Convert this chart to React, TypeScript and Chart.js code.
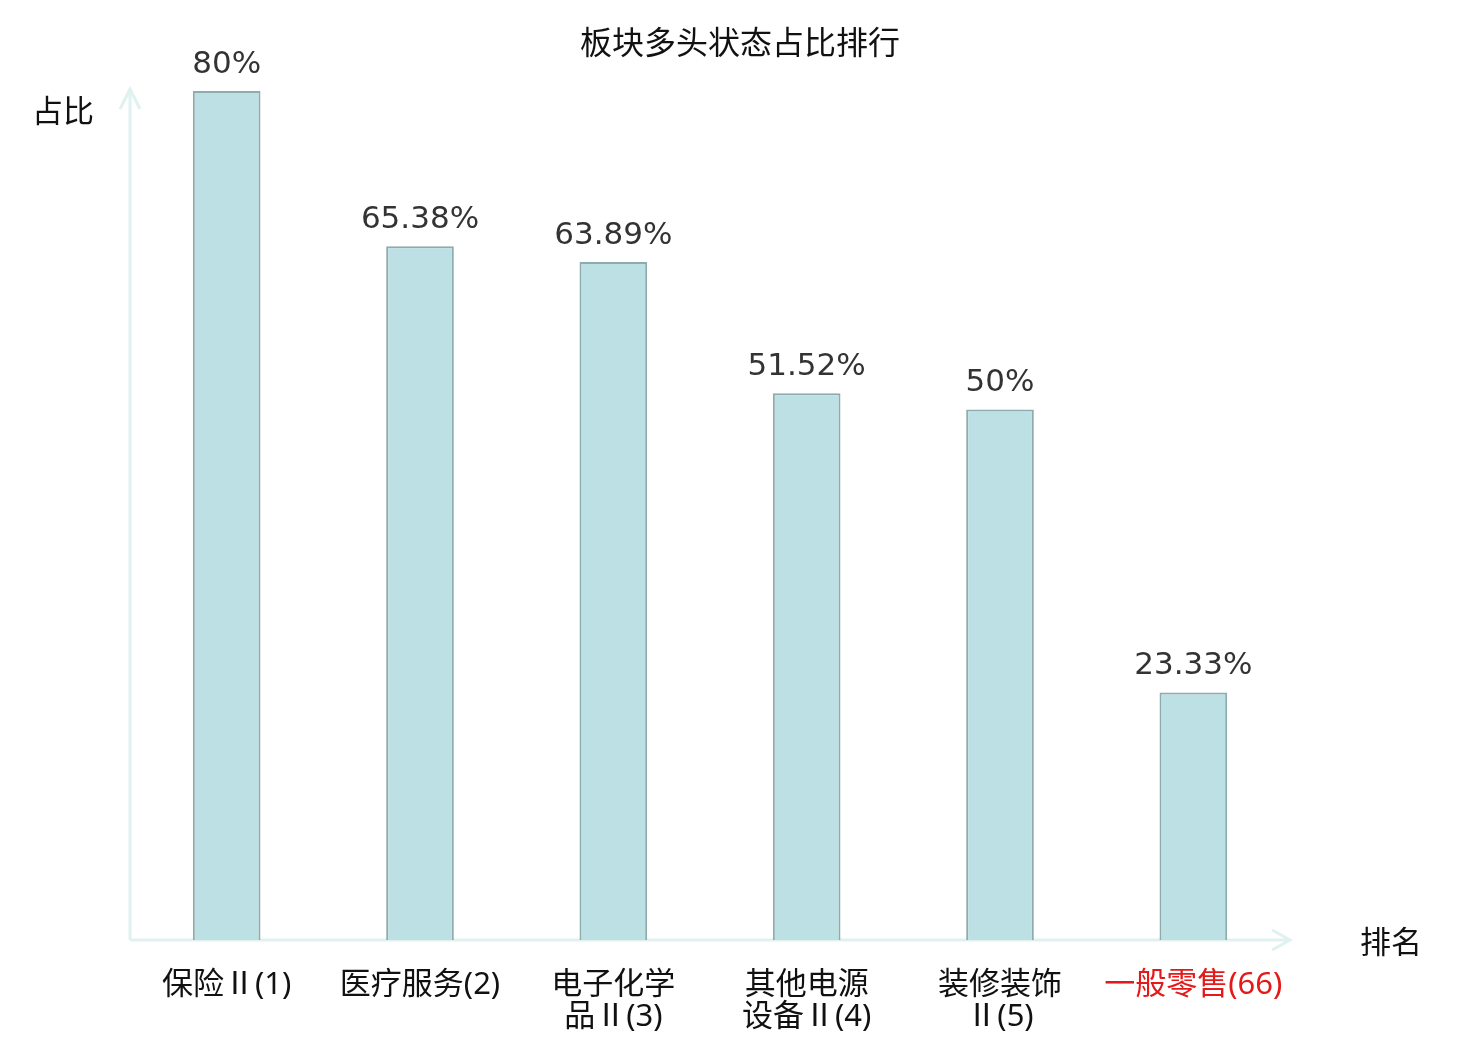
import React, { useEffect, useRef } from "react";
import { Chart, registerables } from "chart.js";

Chart.register(...registerables);

const title = "板块多头状态占比排行";
const yAxisName = "占比";
const xAxisName = "排名";
const categories: string[][] = [
  ["保险Ⅱ(1)"],
  ["医疗服务(2)"],
  ["电子化学", "品Ⅱ(3)"],
  ["其他电源", "设备Ⅱ(4)"],
  ["装修装饰", "Ⅱ(5)"],
  ["一般零售(66)"],
];
const values = [80, 65.38, 63.89, 51.52, 50, 23.33];
const valueLabels = ["80%", "65.38%", "63.89%", "51.52%", "50%", "23.33%"];
const highlightIndex = 5;

const CJK = "'Noto Sans CJK SC', 'Noto Sans', sans-serif";
const TICK_FONT = "'Noto Sans', 'Noto Sans CJK SC', sans-serif";
const AXIS_COLOR = "#dff2ef";

const decorPlugin = {
  id: "decor",
  beforeDatasetsDraw(chart: any) {
    const { ctx, chartArea } = chart;
    const { left, right, top, bottom } = chartArea;
    ctx.save();
    ctx.strokeStyle = AXIS_COLOR;
    ctx.lineWidth = 3;
    ctx.lineJoin = "miter";
    ctx.beginPath();
    ctx.moveTo(left, bottom);
    ctx.lineTo(left, top - 2);
    ctx.moveTo(left, bottom);
    ctx.lineTo(right, bottom);
    ctx.stroke();
    ctx.beginPath();
    ctx.moveTo(left - 10, top + 18);
    ctx.lineTo(left, top - 2);
    ctx.lineTo(left + 10, top + 18);
    ctx.moveTo(right - 18, bottom - 10);
    ctx.lineTo(right, bottom);
    ctx.lineTo(right - 18, bottom + 10);
    ctx.stroke();
    ctx.restore();
  },
  afterDatasetsDraw(chart: any) {
    const { ctx, chartArea, width } = chart;
    const meta = chart.getDatasetMeta(0);
    ctx.save();
    ctx.fillStyle = "#333333";
    ctx.font = "31px 'DejaVu Sans'";
    ctx.textAlign = "center";
    ctx.textBaseline = "alphabetic";
    meta.data.forEach((bar: any, i: number) => {
      ctx.fillText(valueLabels[i], bar.x, bar.y - 18);
    });
    ctx.fillStyle = "#111111";
    ctx.font = `32px ${CJK}`;
    ctx.textBaseline = "middle";
    ctx.fillText(title, width / 2, 42);
    ctx.font = `31px ${CJK}`;
    ctx.fillText(yAxisName, chartArea.left - 67, chartArea.top + 19);
    ctx.fillText(xAxisName, chartArea.right + 101, chartArea.bottom + 1);
    ctx.restore();
  },
};

export default function App() {
  const canvasRef = useRef<HTMLCanvasElement>(null);
  useEffect(() => {
    if (!canvasRef.current) return;
    const chart = new Chart(canvasRef.current, {
      type: "bar",
      data: {
        labels: categories,
        datasets: [
          {
            data: values,
            backgroundColor: "#bce0e3",
            borderColor: "#8eabae",
            borderWidth: 2,
            barPercentage: 0.35,
            categoryPercentage: 1,
          },
        ],
      },
      options: {
        animation: false,
        responsive: true,
        maintainAspectRatio: false,
        layout: { padding: { left: 130, right: 190, top: 91, bottom: 0 } },
        plugins: {
          legend: { display: false },
          tooltip: { enabled: false },
          title: { display: false },
        },
        scales: {
          x: {
            grid: { display: false, drawTicks: false },
            border: { display: false },
            ticks: {
              autoSkip: false,
              maxRotation: 0,
              padding: 29,
              font: { family: TICK_FONT, size: 31, lineHeight: 1.03 },
              color: (c: any) => (c.index === highlightIndex ? "#e41a1a" : "#111111"),
            },
            afterFit(scale: any) {
              scale.height = 100;
            },
          },
          y: {
            display: false,
            min: 0,
            max: 80,
          },
        },
      },
      plugins: [decorPlugin],
    });
    return () => chart.destroy();
  }, []);
  return (
    <div style={{ position: "absolute", left: 0, top: 0, width: 1480, height: 1040, background: "#fff" }}>
      <canvas ref={canvasRef} />
    </div>
  );
}
